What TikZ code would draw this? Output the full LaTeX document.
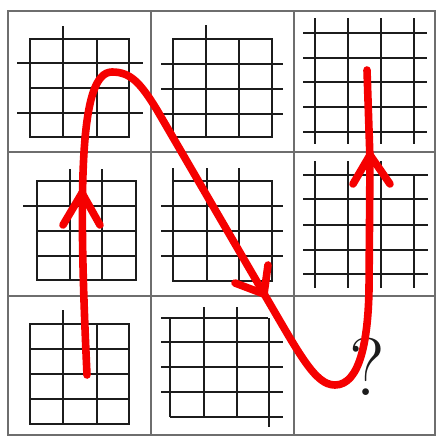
\documentclass[tikz,border=0pt]{standalone}
\definecolor{cellgray}{HTML}{6E6E6E}
\definecolor{inkgrid}{HTML}{1C1C1C}
\definecolor{redpath}{HTML}{F50000}
\tikzset{
  cellline/.style={cellgray, line width=1.6pt},
  gridline/.style={inkgrid, line width=1.2pt},
  redline/.style={redpath, line width=7.6pt, line cap=round, line join=round},
}
\begin{document}
\begin{tikzpicture}[x=1pt,y=-1pt]
\useasboundingbox (0,0) rectangle (437,437);
\fill[white] (0,0) rectangle (437,437);
% cell frame
\draw[cellline] (8,11) rectangle (435,435);
\draw[cellline] (151,11) -- (151,435) (294,11) -- (294,435) (8,152) -- (435,152) (8,296) -- (435,296);
% A
\draw[gridline] (30,39) rectangle (129,137) (63,26) -- (63,137) (97,39) -- (97,137)
  (17,63) -- (143,63) (30,88) -- (129,88) (17,113) -- (143,113);
% B
\draw[gridline] (173,39) rectangle (272,137) (206,25) -- (206,137) (239,39) -- (239,137)
  (161,64) -- (283,64) (161,89) -- (283,89) (161,114) -- (283,114);
% C
\foreach \x in {315,348,381,414} \draw[gridline] (\x,18) -- (\x,144);
\foreach \y in {33,58,82,107,132} \draw[gridline] (303,\y) -- (427,\y);
% D
\draw[gridline] (37,181) rectangle (136,280) (70,169) -- (70,280) (102,169) -- (102,280)
  (23,206) -- (136,206) (37,231) -- (136,231) (37,256) -- (136,256);
% E
\draw[gridline] (173,181) rectangle (272,281) (173,168) -- (173,181) (207,168) -- (207,281) (239,168) -- (239,281)
  (161,206) -- (283,206) (161,231) -- (283,231) (161,256) -- (283,256);
% F
\foreach \x in {315,348,381} \draw[gridline] (\x,161) -- (\x,288);
\draw[gridline] (414,175) -- (414,288);
\foreach \y in {175,199,225,250,274} \draw[gridline] (303,\y) -- (428,\y);
% G
\draw[gridline] (30,324) rectangle (129,424) (63,310) -- (63,424) (97,324) -- (97,424)
  (30,349) -- (129,349) (30,374) -- (129,374) (30,399) -- (129,399);
% H
\draw[gridline] (161,318) -- (268,318) (161,342) -- (283,342) (161,367) -- (283,367) (161,392) -- (283,392) (170,417) -- (283,417)
  (170,318) -- (170,417) (204,307) -- (204,417) (237,307) -- (237,417) (269,318) -- (269,427);
% question mark
\node[inkgrid, inner sep=0pt, font=\fontsize{82}{82}\selectfont] (q) at (367,367) {?};
% red path
\coordinate (s) at (87,375);
\coordinate (peak) at (112,72);
\coordinate (mid) at (263,292);
\coordinate (low) at (335,385);
\coordinate (e) at (367,70);
\draw[redline] (s) .. controls (78,180) and (80,72) .. (peak)
  .. controls (130,72) and (140,82) .. (157,110) -- (mid)
  .. controls (300,355) and (315,385) .. (low)
  .. controls (360,385) and (368,340) .. (369,290) -- (370,160) -- (e);
% arrow heads
\draw[redline] (63,225) -- (82,193) -- (100,225);
\draw[redline] (235,283) -- (264,294) -- (268,265);
\draw[redline] (353,184) -- (370,155) -- (390,184);
\end{tikzpicture}
\end{document}
